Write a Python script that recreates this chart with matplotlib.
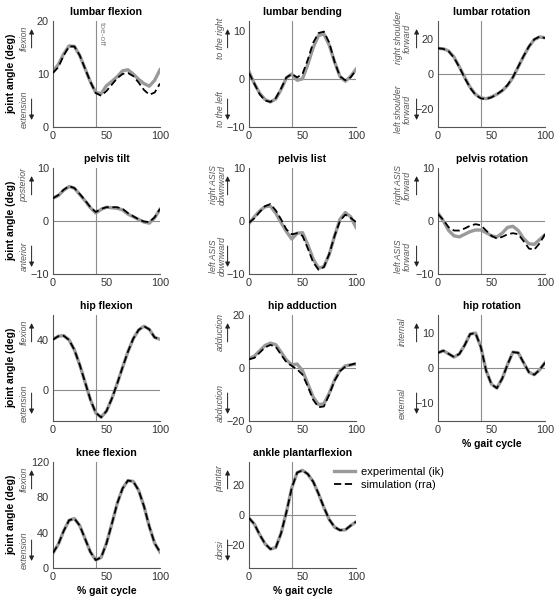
import numpy as np
import matplotlib
matplotlib.use('Agg')
import matplotlib.pyplot as plt

font = {'family': 'Liberation Sans', 'size': 7.5}
matplotlib.rc('font', **font)

# % gait cycle, sampled every 5%
gait = [0, 5, 10, 15, 20, 25, 30, 35, 40, 45, 50, 55, 60, 65, 70, 75, 80, 85, 90, 95, 100]

lumbar_flex_exp = [10.5, 11.8, 13.8, 15.3, 15.2, 13.5, 11.0, 8.5, 6.5, 6.3, 7.8, 8.6, 9.5, 10.6, 10.8, 10.0, 9.0, 8.2, 7.7, 8.8, 10.8]
lumbar_flex_sim = [10.2, 11.3, 13.5, 15.2, 15.2, 13.5, 11.0, 8.5, 6.4, 5.9, 6.8, 8.0, 9.2, 10.0, 10.2, 9.6, 8.4, 7.0, 6.1, 6.5, 8.2]

lumbar_bend_exp = [1.5, -1.0, -3.0, -4.3, -4.8, -4.2, -2.2, 0.2, 1.0, -0.3, 0.0, 3.0, 6.5, 9.0, 9.3, 7.0, 3.5, 0.5, -0.5, 0.5, 2.0]
lumbar_bend_sim = [1.2, -1.0, -3.2, -4.5, -4.8, -4.0, -2.0, 0.3, 1.0, 0.3, 1.0, 4.0, 7.5, 9.5, 9.8, 7.5, 3.5, 0.5, -0.3, 0.3, 1.8]

lumbar_rot_exp = [14.5, 14.3, 13.0, 9.5, 4.0, -2.0, -7.5, -11.5, -13.5, -14.0, -13.0, -11.5, -9.5, -6.5, -2.0, 4.0, 10.0, 15.5, 19.5, 21.0, 20.5]
lumbar_rot_sim = [14.6, 14.2, 12.8, 9.2, 3.8, -2.3, -7.8, -11.8, -13.8, -14.2, -13.2, -11.5, -9.3, -6.2, -1.8, 4.2, 10.2, 15.6, 19.6, 21.2, 20.3]

pelvis_tilt_exp = [4.3, 4.8, 5.8, 6.5, 6.2, 5.0, 3.8, 2.5, 1.5, 2.2, 2.6, 2.5, 2.4, 2.1, 1.3, 0.8, 0.3, -0.2, -0.4, 0.6, 2.2]
pelvis_tilt_sim = [4.3, 4.9, 5.9, 6.6, 6.2, 5.1, 3.9, 2.6, 1.7, 2.3, 2.6, 2.6, 2.6, 2.3, 1.5, 0.9, 0.3, -0.1, -0.2, 0.7, 2.3]

pelvis_list_exp = [-0.5, 0.8, 1.9, 2.7, 2.8, 1.5, -0.3, -2.0, -3.4, -2.3, -2.2, -4.5, -7.2, -8.9, -8.6, -6.3, -2.8, 0.3, 1.6, 0.8, -1.2]
pelvis_list_sim = [-0.3, 0.5, 1.7, 2.8, 3.2, 2.0, 0.3, -1.6, -2.5, -2.3, -2.8, -5.2, -7.8, -9.2, -8.7, -6.2, -2.8, 0.0, 1.2, 0.6, -0.2]

pelvis_rot_exp = [1.5, 0.0, -1.8, -2.8, -3.0, -2.5, -2.0, -1.7, -1.7, -2.2, -2.8, -3.0, -2.3, -1.2, -1.0, -1.8, -3.3, -4.3, -4.4, -3.5, -2.6]
pelvis_rot_sim = [1.3, 0.2, -1.2, -1.8, -1.8, -1.4, -0.9, -0.6, -0.8, -1.8, -2.8, -3.3, -3.0, -2.5, -2.3, -2.5, -3.8, -5.2, -5.4, -4.2, -2.5]

hip_flex_exp = [40.5, 43.0, 43.5, 40.0, 32.0, 20.0, 6.0, -8.0, -18.5, -22.0, -17.0, -7.0, 5.0, 18.0, 30.5, 41.0, 48.0, 51.0, 48.5, 42.0, 40.5]
hip_flex_sim = [40.3, 43.0, 43.3, 40.0, 32.0, 20.0, 6.0, -8.0, -18.5, -22.0, -17.0, -7.0, 5.0, 18.0, 30.5, 41.0, 48.0, 51.0, 48.5, 42.0, 40.8]

hip_add_exp = [3.5, 4.5, 6.5, 8.5, 9.4, 8.8, 6.0, 3.0, 1.2, 1.5, -1.0, -6.0, -11.0, -13.8, -13.5, -9.5, -4.5, -1.0, 0.8, 1.2, 1.5]
hip_add_sim = [3.3, 3.8, 5.8, 7.8, 8.7, 8.0, 5.0, 2.2, 0.8, -0.5, -2.5, -7.0, -12.0, -14.8, -14.5, -10.0, -4.8, -1.2, 0.5, 1.2, 1.8]

hip_rot_exp = [4.3, 4.9, 4.0, 3.1, 4.0, 6.5, 9.6, 9.9, 6.0, -0.8, -4.6, -5.7, -3.0, 1.0, 4.5, 4.3, 1.5, -1.2, -1.9, -0.5, 1.5]
hip_rot_sim = [4.3, 4.9, 4.0, 3.1, 4.0, 6.5, 9.6, 9.9, 6.0, -0.8, -4.6, -5.7, -3.0, 1.0, 4.5, 4.3, 1.5, -1.2, -1.9, -0.5, 1.5]

knee_flex_exp = [17, 27, 42, 54, 56, 48, 33, 18, 9, 12, 28, 50, 73, 90, 99, 98, 88, 70, 47, 28, 18]
knee_flex_sim = [17, 27, 42, 54, 56, 48, 33, 18, 9, 12, 28, 50, 73, 90, 99, 98, 88, 70, 47, 28, 18]

ankle_exp = [-2, -6, -13, -19, -22.5, -21.5, -12, 2, 18, 28, 29.5, 27, 22, 14, 5, -3, -8, -10, -9.8, -7, -4.5]
ankle_sim = [-2, -6, -13, -19, -22.5, -21.5, -12, 2, 18, 28, 29.5, 27, 22, 14, 5, -3, -8, -10, -9.8, -7, -4.5]

titles = ['lumbar flexion', 'lumbar bending', 'lumbar rotation',
          'pelvis tilt', 'pelvis list', 'pelvis rotation',
          'hip flexion', 'hip adduction', 'hip rotation',
          'knee flexion', 'ankle plantarflexion']
exp_data = [lumbar_flex_exp, lumbar_bend_exp, lumbar_rot_exp, pelvis_tilt_exp, pelvis_list_exp,
            pelvis_rot_exp, hip_flex_exp, hip_add_exp, hip_rot_exp, knee_flex_exp, ankle_exp]
sim_data = [lumbar_flex_sim, lumbar_bend_sim, lumbar_rot_sim, pelvis_tilt_sim, pelvis_list_sim,
            pelvis_rot_sim, hip_flex_sim, hip_add_sim, hip_rot_sim, knee_flex_sim, ankle_sim]
up_labels = ['flexion', 'to the right', 'right shoulder\nforward', 'posterior', 'right ASIS\ndownward',
             'right ASIS\nforward', 'flexion', 'adduction', 'internal', 'flexion', 'plantar']
down_labels = ['extension', 'to the left', 'left shoulder\nforward', 'anterior', 'left ASIS\ndownward',
               'left ASIS\nforward', 'extension', 'abduction', 'external', 'extension', 'dorsi']
ylims = [(0, 20), (-10, 12), (-30, 30), (-10, 10), (-10, 10), (-10, 10),
         (-25, 60), (-20, 20), (-15, 15), (0, 120), (-35, 35)]
yticks = [[0, 10, 20], [-10, 0, 10], [-20, 0, 20], [-10, 0, 10], [-10, 0, 10], [-10, 0, 10],
          [0, 40], [-20, 0, 20], [-10, 0, 10], [0, 40, 80, 120], [-20, 0, 20]]

W, H = 558.0, 600.0
col_left = [53, 249, 438]
row_bottom = [127, 274, 421, 568]
aw, ah = 107, 106

fig = plt.figure(figsize=(W / 100, H / 100), dpi=100)
axes = []
for i in range(11):
    r, c = divmod(i, 3)
    ax = fig.add_axes([col_left[c] / W, 1 - row_bottom[r] / H, aw / W, ah / H])
    axes.append(ax)
    ax.axvline(40, color='#8c8c8c', lw=0.8, zorder=1)
    ax.axhline(0, color='#8c8c8c', lw=0.8, zorder=1)
    ax.plot(gait, exp_data[i], color='#9a9a9a', lw=2.4, zorder=2, label='experimental (ik)')
    ax.plot(gait, sim_data[i], color='black', lw=1.3, ls=(0, (4, 2)), zorder=3, label='simulation (rra)')
    ax.set_xlim(0, 100)
    ax.set_ylim(*ylims[i])
    ax.set_xticks([0, 50, 100])
    ax.set_yticks(yticks[i])
    ax.set_title(titles[i], fontweight='bold', fontsize=7.6, pad=4)
    for s in ['top', 'right']:
        ax.spines[s].set_visible(False)
    for s in ['left', 'bottom']:
        ax.spines[s].set_color('#555555')
        ax.spines[s].set_linewidth(0.8)
    ax.tick_params(length=0, pad=3, labelsize=7.8, colors='#333333')

    # direction hints beside the y axis
    if c == 2:
        tx = -0.33
    elif '\n' in up_labels[i]:
        tx = -0.295
    else:
        tx = -0.27
    ax_x = -0.2
    ax.annotate('', xy=(ax_x, 0.95), xytext=(ax_x, 0.72), xycoords='axes fraction',
                arrowprops=dict(arrowstyle='-|>', color='#222222', lw=0.7, mutation_scale=7))
    ax.annotate('', xy=(ax_x, 0.04), xytext=(ax_x, 0.29), xycoords='axes fraction',
                arrowprops=dict(arrowstyle='-|>', color='#222222', lw=0.7, mutation_scale=7))
    ax.text(tx, 0.84, up_labels[i], transform=ax.transAxes, rotation=90, ha='center', va='center',
            style='italic', fontsize=6.3, color='#555555', linespacing=0.95)
    ax.text(tx, 0.17, down_labels[i], transform=ax.transAxes, rotation=90, ha='center', va='center',
            style='italic', fontsize=6.3, color='#555555', linespacing=0.95)
    if c == 0:
        ax.text(-0.39, 0.5, 'joint angle (deg)', transform=ax.transAxes, rotation=90,
                ha='center', va='center', fontweight='bold', fontsize=7.5)

axes[0].text(42, 19.8, 'toe-off', rotation=270, ha='left', va='top', fontsize=6, color='#888888')

for i in [8, 9, 10]:
    axes[i].set_xlabel('% gait cycle', fontweight='bold', fontsize=7.5, labelpad=3)

axes[10].legend(loc='upper left', bbox_to_anchor=(334 / W, 1 - 467 / H), bbox_transform=fig.transFigure,
                frameon=False, fontsize=8, handlelength=1.9, handletextpad=0.5, labelspacing=0.3,
                borderaxespad=0, borderpad=0)

plt.savefig('out.png', dpi=100)
